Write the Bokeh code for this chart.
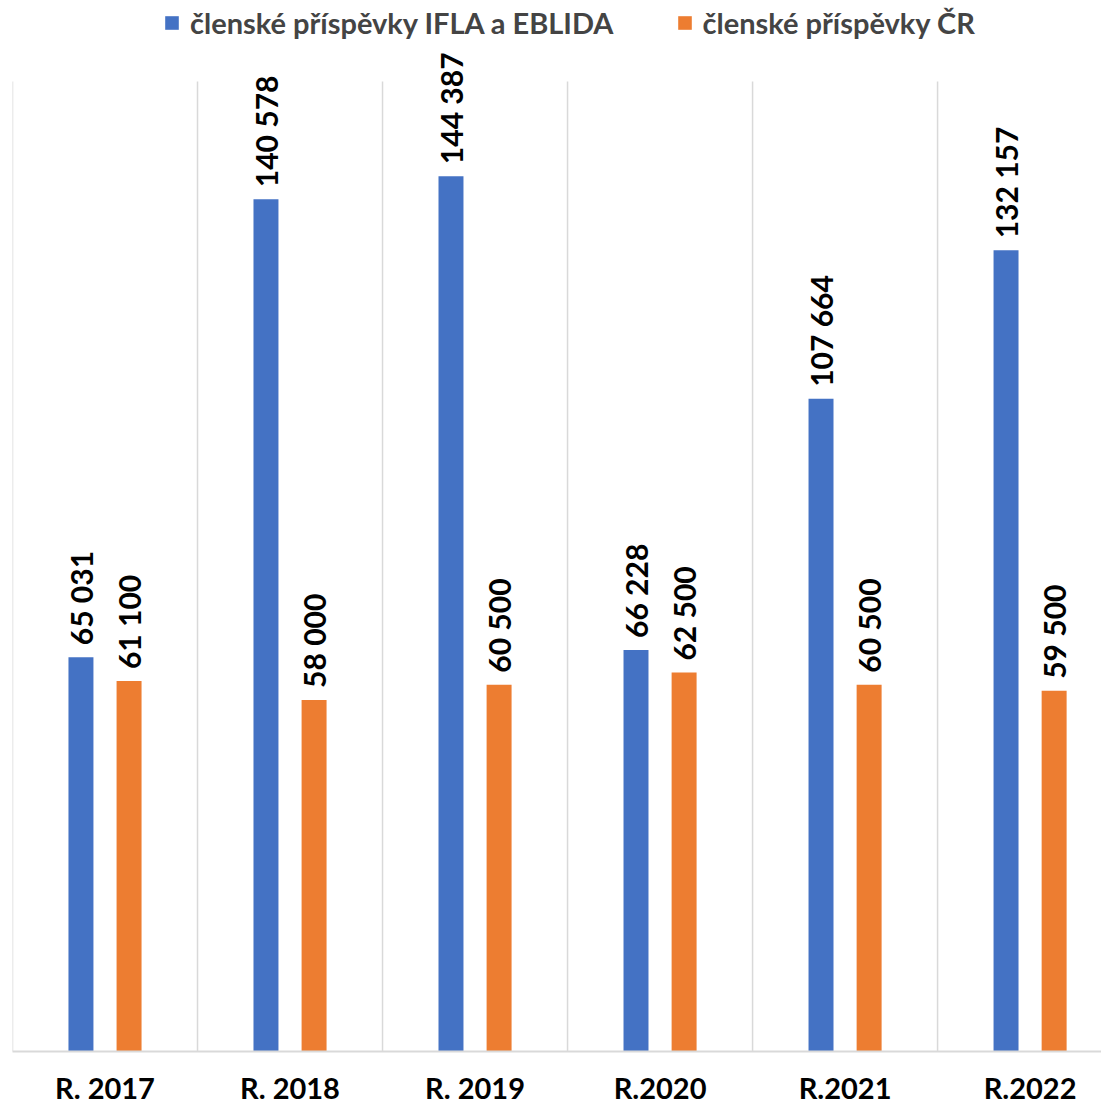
from bokeh.plotting import figure
from bokeh.models import ColumnDataSource, FixedTicker, Legend, LegendItem, LabelSet
from bokeh.core.properties import value
from bokeh.embed import file_html
from bokeh.resources import INLINE
import math

categories = ["R. 2017", "R. 2018", "R. 2019", "R.2020", "R.2021", "R.2022"]
ifla_eblida = [65031, 140578, 144387, 66228, 107664, 132157]
cr = [61100, 58000, 60500, 62500, 60500, 59500]
series_names = ["členské příspěvky IFLA a EBLIDA", "členské příspěvky ČR"]
colors = ["#4472C4", "#ED7D31"]
y_max = 160000  # top of the gridlines

def fmt(v):
    return f"{v:,}".replace(",", " ")

n = len(categories)
centers = [i + 0.5 for i in range(n)]
offset = 0.13
bw = 0.135

# frame spans the whole height so labels/legend above the grid are not clipped
y_end = y_max * 1051 / 970

p = figure(width=1101, height=1107, output_backend="svg", toolbar_location=None,
           x_range=(0, 5.886), y_range=(0, y_end), y_axis_location=None,
           min_border_left=12, min_border_right=0, min_border_top=0, min_border_bottom=56)
p.outline_line_color = None
p.background_fill_color = "white"
p.border_fill_color = "white"
p.grid.visible = False

# vertical category separators
p.segment(x0=list(range(n)), y0=0, x1=list(range(n)), y1=y_max,
          line_color="#d9d9d9", line_width=1.5)

renderers = []
for k, vals in enumerate([ifla_eblida, cr]):
    xs = [c + (-offset if k == 0 else offset) for c in centers]
    src = ColumnDataSource(dict(x=xs, top=vals, lab=[fmt(v) for v in vals]))
    r = p.vbar(x="x", top="top", width=bw, bottom=0, source=src, fill_color=colors[k], line_color=None)
    renderers.append(r)
    labels = LabelSet(x="x", y="top", text="lab", source=src, angle=math.pi / 2, text_align="left",
                      text_baseline="middle", y_offset=12, text_font=value("Lato"),
                      text_font_style="bold", text_font_size="30px", text_color="black")
    p.add_layout(labels)

ax = p.xaxis[0]
ax.ticker = FixedTicker(ticks=centers)
ax.major_label_overrides = {c: categories[i] for i, c in enumerate(centers)}
ax.axis_line_color = "#d9d9d9"
ax.axis_line_width = 2
ax.major_tick_line_color = None
ax.minor_tick_line_color = None
ax.major_label_standoff = 12
ax.major_label_text_font = "Lato"
ax.major_label_text_font_style = "bold"
ax.major_label_text_font_size = "29px"
ax.major_label_text_color = "black"

legend = Legend(items=[LegendItem(label=series_names[i], renderers=[renderers[i]]) for i in range(2)],
                orientation="horizontal", location=(151, 1011),
                label_text_font="Lato", label_text_font_style="bold", label_text_font_size="29px",
                glyph_width=17, glyph_height=17, spacing=62, label_standoff=10,
                border_line_color=None, background_fill_alpha=0, margin=0, padding=0)
p.add_layout(legend, "center")

open("out.html", "w").write(file_html(p, INLINE))
